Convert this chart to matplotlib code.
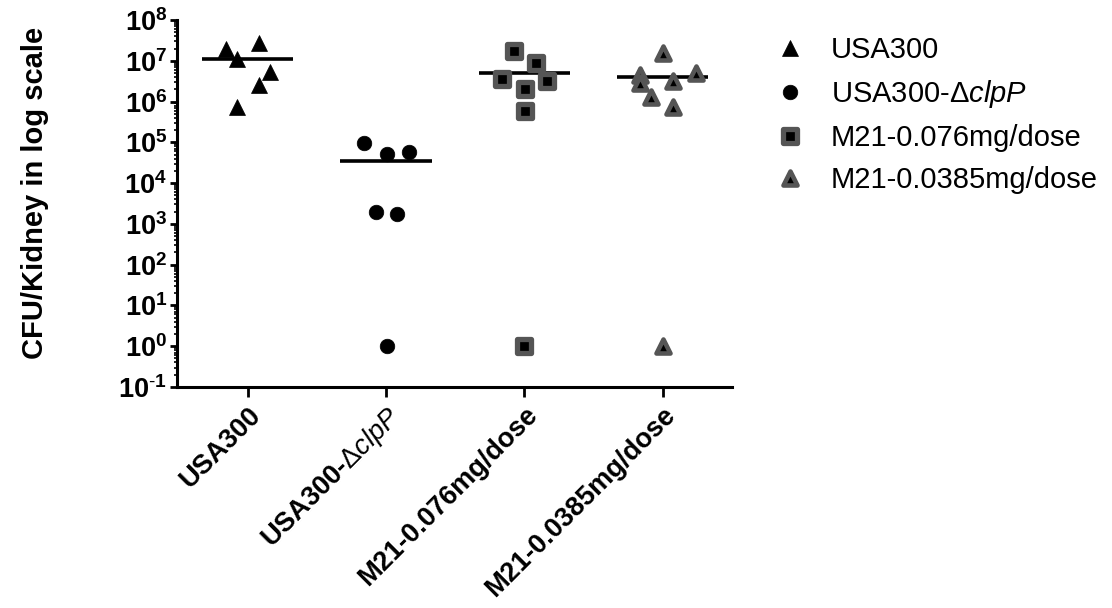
import numpy as np
import matplotlib
matplotlib.use('Agg')
import matplotlib.pyplot as plt
from matplotlib.markers import MarkerStyle
from matplotlib.ticker import LogLocator, NullFormatter

plt.rcParams['font.family'] = ['Liberation Sans', 'DejaVu Sans']
plt.rcParams['mathtext.fontset'] = 'custom'
plt.rcParams['mathtext.rm'] = 'Liberation Sans'
plt.rcParams['mathtext.it'] = 'Liberation Sans:italic'
plt.rcParams['mathtext.bf'] = 'Liberation Sans:bold'
plt.rcParams['axes.unicode_minus'] = False

# groups, shown as tick labels and in the legend
grupos = ['USA300', r'USA300-$\Delta\mathit{clpP}$', 'M21-0.076mg/dose', 'M21-0.0385mg/dose']

# CFU per kidney, and the horizontal jitter of each point (category units)
usa300 = [1.9e7, 2.7e7, 1.1e7, 5.4e6, 2.6e6, 7.5e5]
usa300_dx = [-0.154, 0.082, -0.077, 0.159, 0.082, -0.077]

clpp = [9.8e4, 5.1e4, 5.8e4, 2.0e3, 1.8e3, 1.0]
clpp_dx = [-0.157, 0.005, 0.164, -0.074, 0.082, 0.005]

m21_076 = [1.77e7, 8.7e6, 3.6e6, 3.2e6, 2.0e6, 5.9e5, 1.0]
m21_076_dx = [-0.077, 0.085, -0.159, 0.161, 0.002, 0.002, 0.0]

m21_0385 = [1.53e7, 4.5e6, 2.8e6, 3.25e6, 4.9e6, 1.32e6, 7.2e5, 1.0]
m21_0385_dx = [0.002, -0.164, -0.164, 0.074, 0.239, -0.082, 0.074, 0.0]

exponentes = list(range(-1, 9))

fig = plt.figure(figsize=(11.12, 6.08), dpi=100)
ax = fig.add_axes([0.159, 0.3635, 0.499, 0.6035])

datos = [usa300, clpp, m21_076, m21_0385]
saltos = [usa300_dx, clpp_dx, m21_076_dx, m21_0385_dx]

tri_r = MarkerStyle('^', joinstyle='round')
cua_r = MarkerStyle('s', joinstyle='round')
estilos = [
    dict(marker='^', ms=11, mfc='black', mec='black', mew=0.5),
    dict(marker='o', ms=10.5, mfc='black', mec='black', mew=0.5),
    dict(marker=cua_r, ms=9.6, mfc='black', mec='#555555', mew=3.8),
    dict(marker=tri_r, ms=9.8, mfc='black', mec='#555555', mew=3.3),
]

for i in range(4):
    y = np.array(datos[i])
    x = i + np.array(saltos[i])
    media = y.mean()
    ax.plot([i - 0.33, i + 0.33], [media, media], color='black', lw=2.6,
            solid_capstyle='butt', zorder=2)
    ax.plot(x, y, ls='none', label=grupos[i], zorder=3, **estilos[i])

ax.set_yscale('log')
ax.set_ylim(0.1, 1e8)
ax.set_xlim(-0.513, 3.5)

etiquetas_y = []
for e in exponentes:
    if e < 0:
        etiquetas_y.append(r'$\mathdefault{10^{\text{-}%d}}$' % (-e))
    else:
        etiquetas_y.append(r'$\mathdefault{10^{%d}}$' % e)
ax.set_yticks([10.0 ** e for e in exponentes], etiquetas_y,
              fontsize=19.5, fontweight='bold')
ax.yaxis.set_minor_locator(LogLocator(base=10, subs=np.arange(2, 10), numticks=20))
ax.yaxis.set_minor_formatter(NullFormatter())

ax.set_xticks(range(4))
ax.set_xticklabels(grupos, rotation=45, ha='right', rotation_mode='anchor',
                   fontsize=19.5, fontweight='bold')

for s in ['top', 'right']:
    ax.spines[s].set_visible(False)
for s in ['left', 'bottom']:
    ax.spines[s].set_linewidth(2.2)

ax.tick_params(axis='y', which='major', length=5, width=2, pad=2)
ax.tick_params(axis='y', which='minor', length=2.5, width=1.2)
ax.tick_params(axis='x', which='major', length=7, width=2, pad=4)

ax.set_ylabel('CFU/Kidney in log scale', fontsize=21, fontweight='bold')
ax.yaxis.set_label_coords(-0.23, 0.53)

ax.legend(loc='upper left', bbox_to_anchor=(0.687, 0.96),
          bbox_transform=fig.transFigure, frameon=False, fontsize=21,
          handlelength=1.0, handletextpad=0.9, labelspacing=0.48,
          borderaxespad=0, numpoints=1)

fig.savefig('out.png', dpi=100)
